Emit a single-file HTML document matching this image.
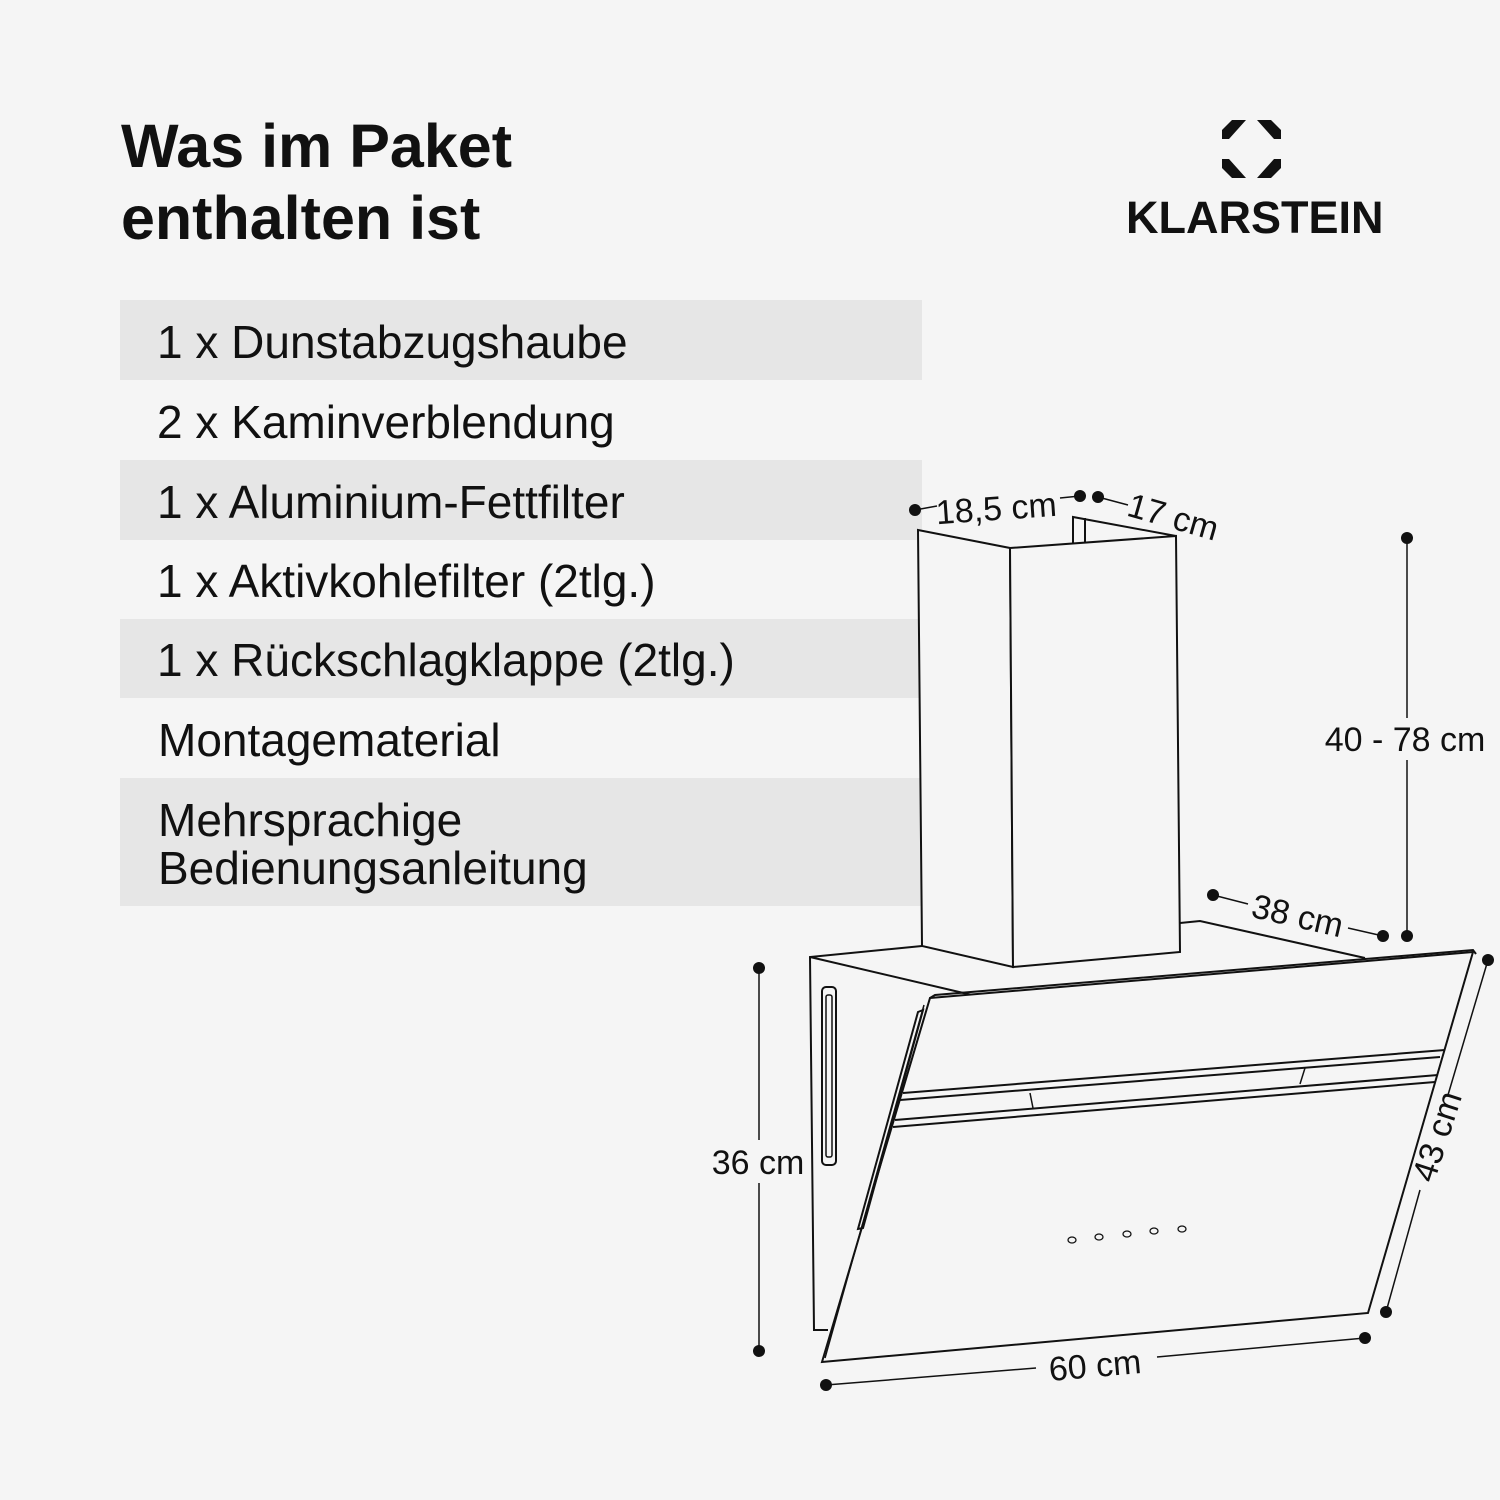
<!DOCTYPE html>
<html><head><meta charset="utf-8"><style>
html,body{margin:0;padding:0}
body{width:1500px;height:1500px;background:#f5f5f5;position:relative;overflow:hidden;font-family:"Liberation Sans",sans-serif;color:#111}
.t{position:absolute;left:121px;font-size:61px;font-weight:bold;line-height:72px;top:110px;letter-spacing:0px}
.row{position:absolute;left:120px;width:802px;font-size:46px;box-sizing:border-box;padding-left:37px}
.s{background:#e6e6e6}
.logo{position:absolute;left:1126px;top:192px;font-size:45px;font-weight:bold;letter-spacing:0px}
</style></head><body>
<div class="t">Was im Paket<br>enthalten ist</div>
<div class="row s" style="top:300px;height:80px;line-height:84px">1 x Dunstabzugshaube</div>
<div class="row" style="top:380px;height:80px;line-height:84px">2 x Kaminverblendung</div>
<div class="row s" style="top:460px;height:80px;line-height:84px">1 x Aluminium-Fettfilter</div>
<div class="row" style="top:540px;height:79px;line-height:83px">1 x Aktivkohlefilter (2tlg.)</div>
<div class="row s" style="top:619px;height:79px;line-height:83px">1 x Rückschlagklappe (2tlg.)</div>
<div class="row" style="top:698px;height:80px;line-height:84px;padding-left:38px">Montagematerial</div>
<div class="row s" style="top:778px;height:128px;line-height:48px;padding-top:18px;padding-left:38px">Mehrsprachige<br>Bedienungsanleitung</div>
<div class="logo">KLARSTEIN</div>
<svg width="1500" height="1500" style="position:absolute;left:0;top:0" fill="none" stroke="#111" stroke-width="2">
<g fill="#111" stroke="none">
<polygon points="1232,120 1246,120 1229,139 1222,139 1222,130"/>
<polygon points="1257,120 1271,120 1281,130 1281,139 1274,139"/>
<polygon points="1222,159 1229,159 1246,178 1232,178 1222,168"/>
<polygon points="1274,159 1281,159 1281,168 1271,178 1257,178"/>
</g>
<polyline points="1073,543 1073,517 1176,536"/>
<line x1="1085" y1="518" x2="1085" y2="542"/>
<polygon points="918,530 1010,548 1013,967 922,946" fill="#f5f5f5"/>
<polygon points="1010,548 1176,536 1180,952 1013,967" fill="#f5f5f5"/>
<polyline points="922,946 810,957 814,1330 828,1330"/>
<polyline points="810,957 972,995"/>
<polyline points="1180,923 1200,921 1365,958"/>
<rect x="822" y="987" width="14" height="178" rx="4"/>
<rect x="826" y="995" width="6" height="162" rx="2" stroke-width="1.5"/>
<polygon points="930,998 1473,952 1368,1313 822,1362" fill="#f5f5f5"/>
<polyline points="930,998 935,995 1473,950 1476,954"/>
<line x1="924" y1="1005" x2="825" y2="1358" stroke-width="1.5"/>
<polygon points="918,1012 923,1010 863,1228 858,1229"/>
<line x1="903" y1="1093" x2="1445" y2="1050"/>
<line x1="900" y1="1100" x2="1440" y2="1057"/>
<line x1="895" y1="1120" x2="1438" y2="1075"/>
<line x1="893" y1="1127" x2="1435" y2="1082"/>
<line x1="1030" y1="1093" x2="1033" y2="1108" stroke-width="1.5"/>
<line x1="1305" y1="1068" x2="1300" y2="1084" stroke-width="1.5"/>
<g stroke-width="1.3">
<ellipse cx="1072" cy="1240" rx="4" ry="3"/><ellipse cx="1099" cy="1237" rx="4" ry="3"/><ellipse cx="1127" cy="1234" rx="4" ry="3"/><ellipse cx="1154" cy="1231" rx="4" ry="3"/><ellipse cx="1182" cy="1229" rx="4" ry="3"/>
</g>
<g stroke-width="1.5">
<line x1="915" y1="510" x2="937" y2="506"/><line x1="1060" y1="498" x2="1080" y2="496"/>
<line x1="1098" y1="497" x2="1128" y2="505"/>
<line x1="1407" y1="538" x2="1407" y2="718"/><line x1="1407" y1="760" x2="1407" y2="936"/>
<line x1="1213" y1="895" x2="1248" y2="904"/><line x1="1348" y1="928" x2="1383" y2="936"/>
<line x1="759" y1="968" x2="759" y2="1140"/><line x1="759" y1="1183" x2="759" y2="1351"/>
<line x1="1488" y1="960" x2="1448" y2="1095"/><line x1="1420" y1="1190" x2="1386" y2="1312"/>
<line x1="826" y1="1385" x2="1036" y2="1368"/><line x1="1157" y1="1357" x2="1365" y2="1338"/>
</g>
<g fill="#111" stroke="none">
<circle cx="915" cy="510" r="6"/><circle cx="1080" cy="496" r="6"/><circle cx="1098" cy="497" r="6"/>
<circle cx="1407" cy="538" r="6"/><circle cx="1407" cy="936" r="6"/>
<circle cx="1213" cy="895" r="6"/><circle cx="1383" cy="936" r="6"/>
<circle cx="759" cy="968" r="6"/><circle cx="759" cy="1351" r="6"/>
<circle cx="1488" cy="960" r="6"/><circle cx="1386" cy="1312" r="6"/>
<circle cx="826" cy="1385" r="6"/><circle cx="1365" cy="1338" r="6"/>
</g>
<g fill="#111" stroke="none" font-family="Liberation Sans, sans-serif" font-size="34" text-anchor="middle">
<text transform="translate(997,520) rotate(-4)">18,5 cm</text>
<text transform="translate(1170,528) rotate(16)">17 cm</text>
<text x="1405" y="751">40 - 78 cm</text>
<text transform="translate(1295,927) rotate(13)">38 cm</text>
<text x="758" y="1174">36 cm</text>
<text transform="translate(1448,1140) rotate(-72)">43 cm</text>
<text transform="translate(1096,1377) rotate(-5)">60 cm</text>
</g>
</svg>
</body></html>
